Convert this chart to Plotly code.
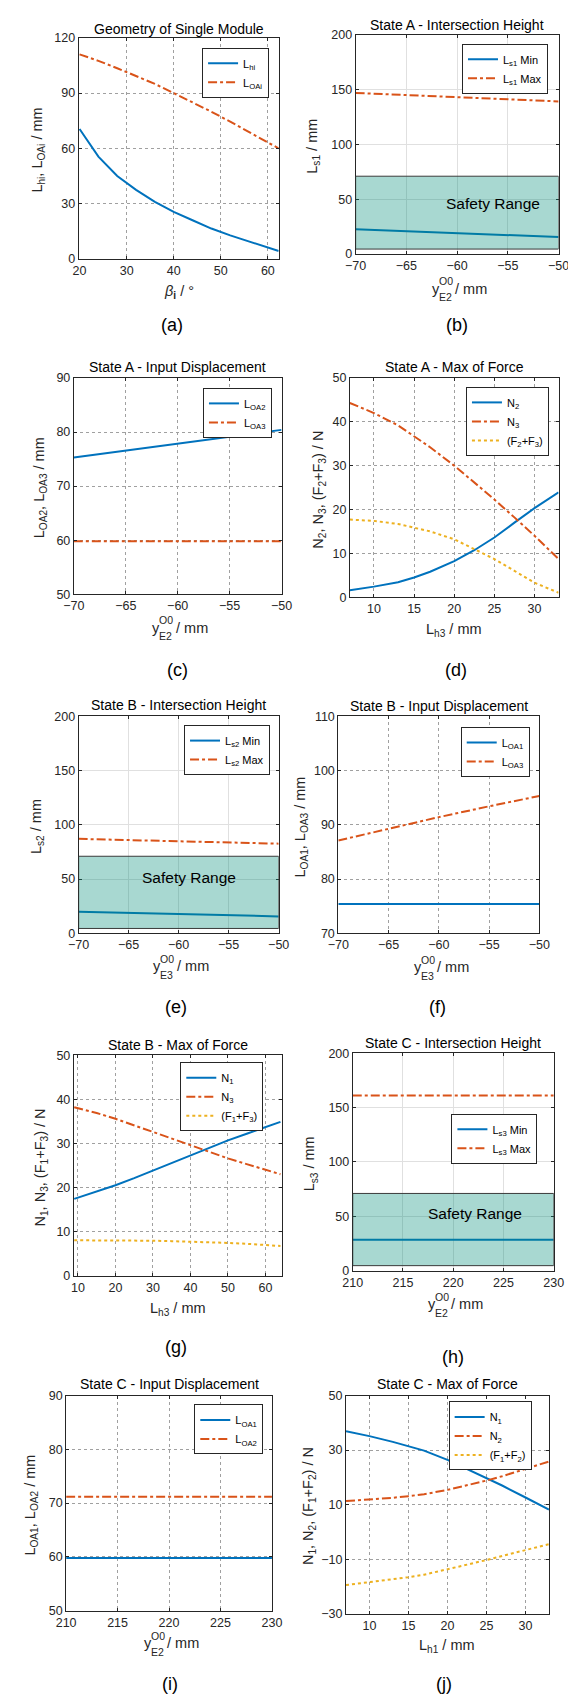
import plotly.graph_objects as go

W, H = 576, 1695
BLUE = "#0072BD"
ORANGE = "#D95319"
YELLOW = "#EDB120"
FONT = "Liberation Sans, Arial, sans-serif"
TXT = "#262626"

# ---------------- data ----------------
# (a) Geometry of single module
a_beta = [20, 24, 28, 32, 36, 40, 44, 48, 52, 56, 60, 62.3]
a_Lhi = [70.5, 55.5, 45.0, 37.5, 31.0, 25.5, 21.0, 16.5, 12.8, 9.6, 6.5, 4.3]
a_LOAi = [111.0, 107.5, 103.5, 99.4, 95.0, 90.0, 85.0, 79.9, 74.5, 69.0, 63.3, 60.0]

# (b) State A intersection height
yE = [-70, -65, -60, -55, -50]
b_Ls1_min = [22.5, 20.8, 19.0, 17.3, 15.5]
b_Ls1_max = [147.0, 145.2, 143.3, 141.4, 139.2]

# (c) State A input displacement
c_LOA2 = [75.3, 76.6, 77.9, 79.1, 80.4]
c_LOA3 = [59.8, 59.8, 59.8, 59.8, 59.8]

# (d) State A max of force
d_Lh3 = [7, 10, 13, 15, 17, 20, 22.5, 25, 27.5, 30, 33]
d_N2 = [1.6, 2.4, 3.4, 4.5, 5.8, 8.2, 10.7, 13.6, 17.0, 20.3, 23.9]
d_N3 = [44.3, 42.0, 39.2, 36.8, 34.2, 30.0, 26.2, 22.3, 18.2, 14.0, 8.7]
d_F23 = [17.7, 17.4, 16.7, 15.9, 15.0, 13.2, 11.0, 8.7, 6.0, 3.3, 1.0]

# (e) State B intersection height
e_Ls2_min = [20.0, 18.9, 17.8, 16.7, 15.6]
e_Ls2_max = [87.0, 85.9, 84.8, 83.7, 82.6]

# (f) State B input displacement
f_LOA1 = [75.4, 75.4, 75.4, 75.4, 75.4]
f_LOA3 = [87.1, 89.3, 91.4, 93.4, 95.3]

# (g) State B max of force
g_Lh3 = [9, 15, 20, 25, 30, 35, 40, 45, 50, 55, 60, 64]
g_N1 = [17.4, 19.0, 20.5, 22.1, 23.8, 25.6, 27.3, 29.0, 30.7, 32.2, 33.7, 34.9]
g_N3 = [38.2, 36.9, 35.6, 34.1, 32.6, 31.0, 29.5, 28.0, 26.6, 25.3, 24.0, 23.0]
g_F13 = [8.0, 8.0, 8.0, 7.95, 7.9, 7.8, 7.7, 7.55, 7.4, 7.2, 7.0, 6.7]

# (h) State C intersection height
yE2c = [210, 215, 220, 225, 230]
h_Ls3_min = [28.4, 28.4, 28.4, 28.4, 28.4]
h_Ls3_max = [161.3, 161.3, 161.3, 161.3, 161.3]

# (i) State C input displacement
i_LOA1 = [59.8, 59.8, 59.8, 59.8, 59.8]
i_LOA2 = [71.2, 71.2, 71.2, 71.2, 71.2]

# (j) State C max of force
j_Lh1 = [7, 10, 13, 15, 17, 20, 23, 25, 27, 30, 33]
j_N1 = [36.9, 35.1, 33.0, 31.5, 29.8, 26.4, 22.5, 19.8, 17.0, 12.6, 8.2]
j_N2 = [11.3, 11.8, 12.5, 13.1, 13.8, 15.4, 17.3, 18.8, 20.4, 23.0, 25.8]
j_F12 = [-19.5, -18.5, -17.4, -16.6, -15.7, -13.8, -11.7, -10.3, -8.8, -6.8, -4.5]

# safety range band
safety_low, safety_high = 4.5, 71.0

# ---------------- figure ----------------
fig = go.Figure()


def px_x(x):
    return x / W


def px_y(y):
    return 1 - y / H


panels = {
    1: dict(box=(62, 23, 270, 246), xr=[19.8, 62.3], yr=[0, 120], xt=[20, 30, 40, 50, 60], yt=[0, 30, 60, 90, 120],
            grid="dot", title="Geometry of Single Module", ty=14, ylx=20, xly=276, lab="(a)", labxy=(159, 313),
            leg=(260, 33)),
    2: dict(box=(350, 20, 561, 241), xr=[-70, -50], yr=[0, 200], xt=[-70, -65, -60, -55, -50], yt=[0, 50, 100, 150, 200],
            grid="solid", title="State A - Intersection Height", ty=10, ylx=306, xly=276, lab="(b)", labxy=(455, 313),
            leg=(550, 29)),
    3: dict(box=(57, 366, 273, 584), xr=[-70, -50], yr=[50, 90], xt=[-70, -65, -60, -55, -50], yt=[50, 60, 70, 80, 90],
            grid="dot", title="State A - Input Displacement", ty=355, ylx=22, xly=618, lab="(c)", labxy=(165, 660),
            leg=(263, 376)),
    4: dict(box=(344, 366, 561, 587), xr=[7, 33], yr=[0, 50], xt=[10, 15, 20, 25, 30], yt=[0, 10, 20, 30, 40, 50],
            grid="dot", title="State A - Max of Force", ty=355, ylx=311, xly=617, lab="(d)", labxy=(454, 660),
            leg=(551, 375)),
    5: dict(box=(62, 707, 270, 926), xr=[-70, -50], yr=[0, 200], xt=[-70, -65, -60, -55, -50], yt=[0, 50, 100, 150, 200],
            grid="solid", title="State B - Intersection Height", ty=696, ylx=18, xly=959, lab="(e)", labxy=(163, 1000),
            leg=(261, 716)),
    6: dict(box=(332, 707, 541, 926), xr=[-70, -50], yr=[70, 110], xt=[-70, -65, -60, -55, -50], yt=[70, 80, 90, 100, 110],
            grid="dot", title="State B - Input Displacement", ty=697, ylx=293, xly=960, lab="(f)", labxy=(435, 1000),
            leg=(531, 718)),
    7: dict(box=(57, 1049, 273, 1271), xr=[8.9, 64.3], yr=[0, 50], xt=[10, 20, 30, 40, 50, 60], yt=[0, 10, 20, 30, 40, 50],
            grid="dot", title="State B - Max of Force", ty=1039, ylx=23, xly=1302, lab="(g)", labxy=(163, 1343),
            leg=(254, 1056)),
    8: dict(box=(347, 1047, 556, 1266), xr=[210, 230], yr=[0, 200], xt=[210, 215, 220, 225, 230], yt=[0, 50, 100, 150, 200],
            grid="solid", title="State C - Intersection Height", ty=1037, ylx=303, xly=1300, lab="(h)", labxy=(451, 1353),
            leg=(539, 1108)),
    9: dict(box=(49, 1392, 263, 1609), xr=[210, 230], yr=[50, 90], xt=[210, 215, 220, 225, 230], yt=[50, 60, 70, 80, 90],
            grid="dot", title="State C - Input Displacement", ty=1380, ylx=13, xly=1642, lab="(i)", labxy=(157, 1683),
            leg=(254, 1401)),
    10: dict(box=(340, 1392, 551, 1612), xr=[7, 33], yr=[-30, 50], xt=[10, 15, 20, 25, 30], yt=[-30, -10, 10, 30, 50],
             grid="dot", title="State C - Max of Force", ty=1380, ylx=301, xly=1642, lab="(j)", labxy=(442, 1683),
             leg=(533, 1398)),
}

ylabels = {
    1: "L<sub>hi</sub>, L<sub>OAi</sub> / mm",
    2: "L<sub>s1</sub> / mm",
    3: "L<sub>OA2</sub>, L<sub>OA3</sub> / mm",
    4: "N<sub>2</sub>, N<sub>3</sub>, (F<sub>2</sub>+F<sub>3</sub>) / N",
    5: "L<sub>s2</sub> / mm",
    6: "L<sub>OA1</sub>, L<sub>OA3</sub> / mm",
    7: "N<sub>1</sub>, N<sub>3</sub>, (F<sub>1</sub>+F<sub>3</sub>) / N",
    8: "L<sub>s3</sub> / mm",
    9: "L<sub>OA1</sub>, L<sub>OA2</sub> / mm",
    10: "N<sub>1</sub>, N<sub>2</sub>, (F<sub>1</sub>+F<sub>2</sub>) / N",
}
# x labels: either plain string, or tuple (base, sup, sub, tail) for stacked scripts
xlabels = {
    1: "<i>β</i><sub><b>i</b></sub> / °",
    2: ("y", "O0", "E2", "/ mm"),
    3: ("y", "O0", "E2", "/ mm"),
    4: "L<sub>h3</sub> / mm",
    5: ("y", "O0", "E3", "/ mm"),
    6: ("y", "O0", "E3", "/ mm"),
    7: "L<sub>h3</sub> / mm",
    8: ("y", "O0", "E2", "/ mm"),
    9: ("y", "O0", "E2", "/ mm"),
    10: "L<sub>h1</sub> / mm",
}

series = {
    1: [(a_beta, a_Lhi, "L<sub>hi</sub>", BLUE, "solid"), (a_beta, a_LOAi, "L<sub>OAi</sub>", ORANGE, "dashdot")],
    2: [(yE, b_Ls1_min, "L<sub>s1</sub> Min", BLUE, "solid"), (yE, b_Ls1_max, "L<sub>s1</sub> Max", ORANGE, "dashdot")],
    3: [(yE, c_LOA2, "L<sub>OA2</sub>", BLUE, "solid"), (yE, c_LOA3, "L<sub>OA3</sub>", ORANGE, "dashdot")],
    4: [(d_Lh3, d_N2, "N<sub>2</sub>", BLUE, "solid"), (d_Lh3, d_N3, "N<sub>3</sub>", ORANGE, "dashdot"),
        (d_Lh3, d_F23, "(F<sub>2</sub>+F<sub>3</sub>)", YELLOW, "dot")],
    5: [(yE, e_Ls2_min, "L<sub>s2</sub> Min", BLUE, "solid"), (yE, e_Ls2_max, "L<sub>s2</sub> Max", ORANGE, "dashdot")],
    6: [(yE, f_LOA1, "L<sub>OA1</sub>", BLUE, "solid"), (yE, f_LOA3, "L<sub>OA3</sub>", ORANGE, "dashdot")],
    7: [(g_Lh3, g_N1, "N<sub>1</sub>", BLUE, "solid"), (g_Lh3, g_N3, "N<sub>3</sub>", ORANGE, "dashdot"),
        (g_Lh3, g_F13, "(F<sub>1</sub>+F<sub>3</sub>)", YELLOW, "dot")],
    8: [(yE2c, h_Ls3_min, "L<sub>s3</sub> Min", BLUE, "solid"), (yE2c, h_Ls3_max, "L<sub>s3</sub> Max", ORANGE, "dashdot")],
    9: [(yE2c, i_LOA1, "L<sub>OA1</sub>", BLUE, "solid"), (yE2c, i_LOA2, "L<sub>OA2</sub>", ORANGE, "dashdot")],
    10: [(j_Lh1, j_N1, "N<sub>1</sub>", BLUE, "solid"), (j_Lh1, j_N2, "N<sub>2</sub>", ORANGE, "dashdot"),
         (j_Lh1, j_F12, "(F<sub>1</sub>+F<sub>2</sub>)", YELLOW, "dot")],
}

safety_panels = {2: (-56.5, 46), 5: (-59, 51), 8: (222.2, 52.5)}

layout = dict(
    width=W, height=H, margin=dict(l=0, r=0, t=0, b=0),
    paper_bgcolor="white", plot_bgcolor="white",
    font=dict(family=FONT, color=TXT, size=12),
    showlegend=True,
)
annotations = []
shapes = []

LBL = 14.5   # axis label size
SCR = 10.5   # stacked script size

for i, p in panels.items():
    l, t, r, b = p["box"]
    xn = "xaxis" if i == 1 else f"xaxis{i}"
    yn = "yaxis" if i == 1 else f"yaxis{i}"
    xref = "x" if i == 1 else f"x{i}"
    yref = "y" if i == 1 else f"y{i}"
    legname = "legend" if i == 1 else f"legend{i}"
    if p["grid"] == "dot":
        gcol, gdash = "#a0a0a0", "dot"
    else:
        gcol, gdash = "#e0e0e0", "solid"
    common = dict(showline=True, linecolor=TXT, linewidth=1, mirror="ticks", ticks="inside", ticklen=3,
                  tickcolor=TXT, showgrid=True, gridcolor=gcol, griddash=gdash, gridwidth=1, zeroline=False,
                  tickfont=dict(family=FONT, size=12.5, color=TXT))
    layout[xn] = dict(domain=[px_x(l), px_x(r)], range=p["xr"], tickvals=p["xt"], anchor=yref, **common)
    layout[yn] = dict(domain=[px_y(b), px_y(t)], range=p["yr"], tickvals=p["yt"], anchor=xref, **common)
    lx, ly = p["leg"]
    layout[legname] = dict(x=px_x(lx), y=px_y(ly), xanchor="right", yanchor="top", xref="paper", yref="paper",
                           bgcolor="white", bordercolor=TXT, borderwidth=1, font=dict(family=FONT, size=11, color="black"),
                           itemwidth=30, tracegroupgap=0)

    for xs, ys, name, col, dash in series[i]:
        fig.add_trace(go.Scatter(x=xs, y=ys, mode="lines", name=name, xaxis=xref, yaxis=yref,
                                 line=dict(color=col, width=2, dash=dash), legend=legname))

    # title
    annotations.append(dict(text=p["title"], x=px_x((l + r) / 2), y=px_y(p["ty"]), xref="paper", yref="paper",
                            xanchor="center", yanchor="middle", showarrow=False,
                            font=dict(family=FONT, size=14, color="black")))
    # y label
    annotations.append(dict(text=ylabels[i], x=px_x(p["ylx"]), y=px_y((t + b) / 2 + 2), xref="paper", yref="paper",
                            xanchor="center", yanchor="middle", textangle=-90, showarrow=False,
                            font=dict(family=FONT, size=LBL, color=TXT)))
    # x label
    cx = (l + r) / 2
    xl = xlabels[i]
    if isinstance(xl, str):
        annotations.append(dict(text=xl, x=px_x(cx), y=px_y(p["xly"] + 3), xref="paper", yref="paper",
                                xanchor="center", yanchor="middle", showarrow=False,
                                font=dict(family=FONT, size=LBL, color=TXT)))
    else:
        base, sup, sub, tail = xl
        wb, ws, wt = 7.3, 14.0, 32.5
        x0 = cx - (wb + ws + 3 + wt) / 2
        cy = p["xly"]
        annotations.append(dict(text=base, x=px_x(x0), y=px_y(cy), xref="paper", yref="paper", xanchor="left",
                                yanchor="middle", showarrow=False, font=dict(family=FONT, size=LBL, color=TXT)))
        annotations.append(dict(text=sup, x=px_x(x0 + wb), y=px_y(cy - 7.5), xref="paper", yref="paper",
                                xanchor="left", yanchor="middle", showarrow=False,
                                font=dict(family=FONT, size=SCR, color=TXT)))
        annotations.append(dict(text=sub, x=px_x(x0 + wb), y=px_y(cy + 8.5), xref="paper", yref="paper",
                                xanchor="left", yanchor="middle", showarrow=False,
                                font=dict(family=FONT, size=SCR, color=TXT)))
        annotations.append(dict(text=tail, x=px_x(x0 + wb + ws + 3), y=px_y(cy), xref="paper", yref="paper",
                                xanchor="left", yanchor="middle", showarrow=False,
                                font=dict(family=FONT, size=LBL, color=TXT)))
    # panel label
    lbx, lby = p["labxy"]
    annotations.append(dict(text=p["lab"], x=px_x(lbx), y=px_y(lby), xref="paper", yref="paper",
                            xanchor="center", yanchor="middle", showarrow=False,
                            font=dict(family=FONT, size=18, color="black")))

    if i in safety_panels:
        shapes.append(dict(type="rect", xref=xref, yref=yref, x0=p["xr"][0], x1=p["xr"][1],
                           y0=safety_low, y1=safety_high, fillcolor="rgba(0,140,120,0.34)",
                           line=dict(color="#3a3a3a", width=1), layer="above"))
        sx, sy = safety_panels[i]
        annotations.append(dict(text="Safety Range", x=sx, y=sy, xref=xref, yref=yref, xanchor="center",
                                yanchor="middle", showarrow=False, font=dict(family=FONT, size=15.5, color="black")))

layout["annotations"] = annotations
layout["shapes"] = shapes
fig.update_layout(**layout)
fig.write_html("out.html")
